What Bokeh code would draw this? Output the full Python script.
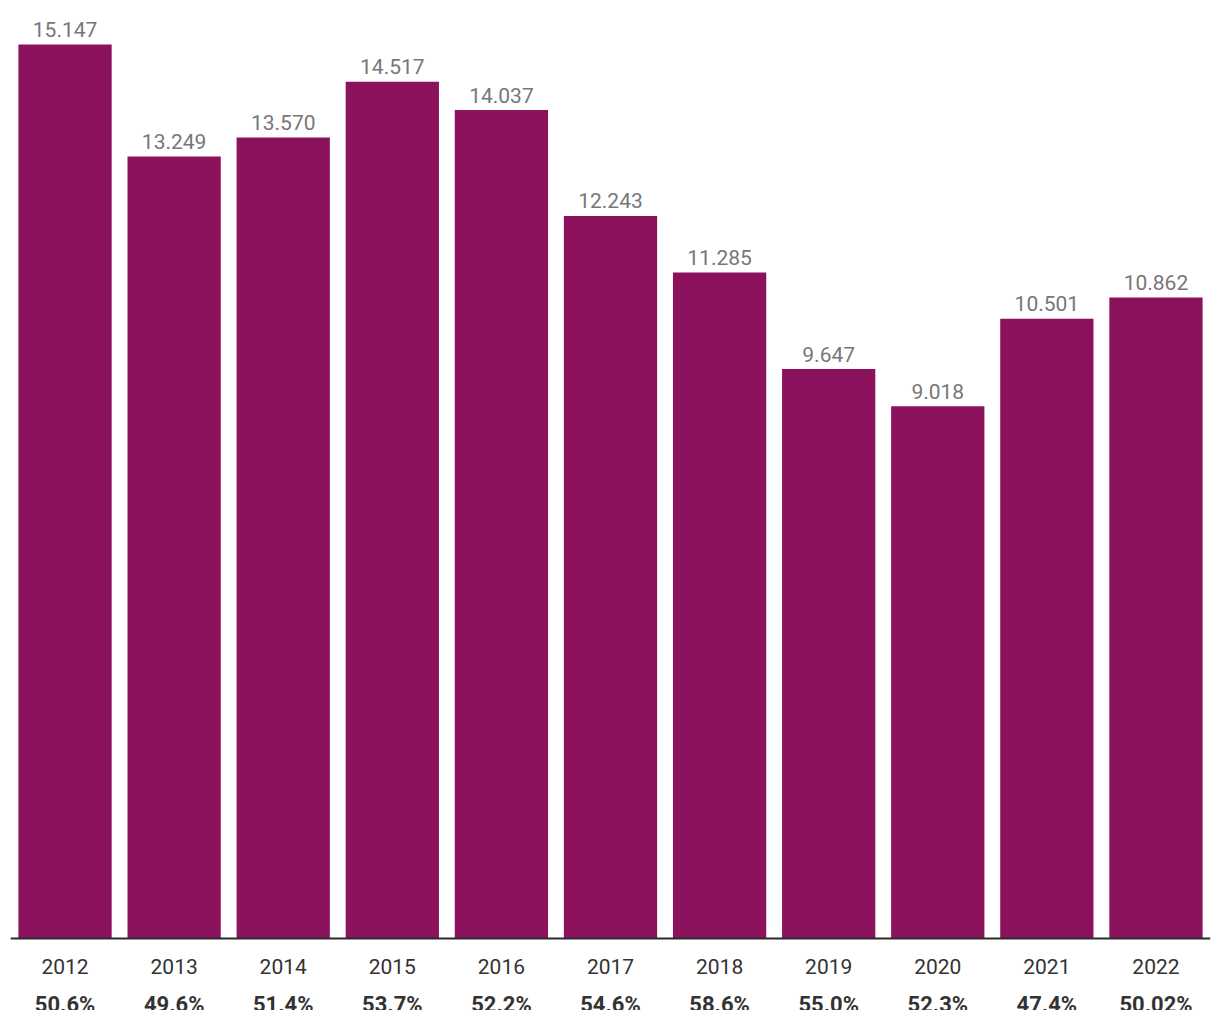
from bokeh.plotting import figure
from bokeh.models import ColumnDataSource, Span, Range1d, FactorRange
from bokeh.core.properties import value
from bokeh.embed import file_html
from bokeh.resources import INLINE

years = ["2012", "2013", "2014", "2015", "2016", "2017", "2018", "2019", "2020", "2021", "2022"]
values = [15.147, 13.249, 13.570, 14.517, 14.037, 12.243, 11.285, 9.647, 9.018, 10.501, 10.862]
value_labels = ["15.147", "13.249", "13.570", "14.517", "14.037", "12.243", "11.285", "9.647", "9.018", "10.501", "10.862"]
percent_labels = ["50.6%", "49.6%", "51.4%", "53.7%", "52.2%", "54.6%", "58.6%", "55.0%", "52.3%", "47.4%", "50.02%"]

src = ColumnDataSource(dict(year=years, val=values, vlab=value_labels, plab=percent_labels, zero=[0] * len(years)))

FONT = "Roboto"
k = 894 / 15.147  # px per unit
H = 1010
BASE = 938
p = figure(
    width=1220, height=H,
    x_range=FactorRange(factors=years),
    y_range=Range1d(-(H - BASE) / k, BASE / k),
    output_backend="svg", toolbar_location=None,
    min_border_left=10, min_border_right=10, min_border_top=0, min_border_bottom=0,
    x_axis_location=None, y_axis_location=None,
)
p.outline_line_color = None
p.xgrid.visible = False
p.ygrid.visible = False
p.background_fill_color = "white"
p.border_fill_color = "white"

p.vbar(x="year", top="val", bottom=0, width=0.855, source=src, fill_color="#8C125E", line_color=None)

p.add_layout(Span(location=0, dimension="width", line_color="#2b2b2b", line_width=2))

p.text(x="year", y="val", text="vlab", source=src, text_align="center", text_baseline="middle",
       y_offset=-15, text_font=value(FONT), text_font_size="21px", text_color="#777777")
p.text(x="year", y="zero", text="year", source=src, text_align="center", text_baseline="middle",
       y_offset=28, text_font=value(FONT), text_font_size="21px", text_color="#333333")
p.text(x="year", y="zero", text="plab", source=src, text_align="center", text_baseline="middle",
       y_offset=66, text_font=value(FONT), text_font_size="22px", text_font_style="bold", text_color="#333333")

open("out.html", "w").write(file_html(p, INLINE))
